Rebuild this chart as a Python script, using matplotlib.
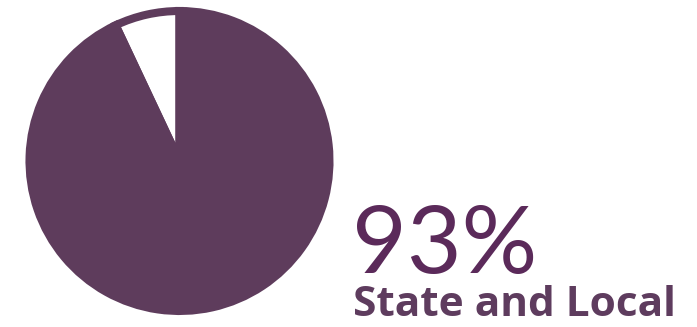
import matplotlib
matplotlib.use("Agg")
import matplotlib.pyplot as plt

# data
labels = ["Other", "State and Local"]
shares = [7, 93]
colors = ["white", "#5e3c5c"]
big_label = "93%"
sub_label = "State and Local"

W, H = 697, 327
fig = plt.figure(figsize=(W / 100, H / 100), dpi=100)
ax = fig.add_axes([0, 0, 1, 1])

wedges, _ = ax.pie(shares, colors=colors, startangle=90, counterclock=True,
                   center=(179.5, 166), radius=150, frame=True,
                   wedgeprops=dict(edgecolor="#5e3c5c", linewidth=5.8, joinstyle="miter"))
ax.set_xlim(0, W)
ax.set_ylim(0, H)
ax.set_aspect("auto")
ax.axis("off")

ax.text(352, 54, big_label, fontsize=68, family="Lato", fontweight="normal",
        color="#5b2a5a", ha="left", va="baseline")
ax.text(353, 11, sub_label, fontsize=30.5, family="Open Sans", fontweight="bold",
        color="#5e3c5e", ha="left", va="baseline")

fig.savefig("out.png", dpi=100)
